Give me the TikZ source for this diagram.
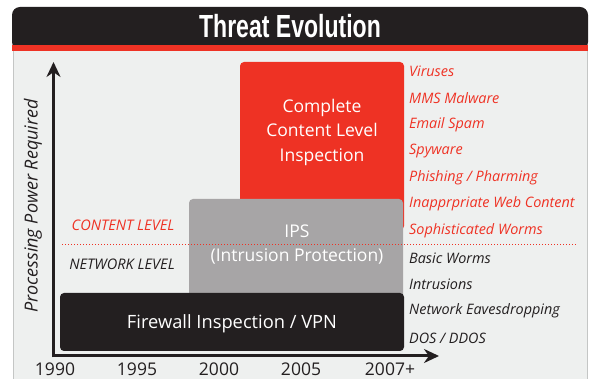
\documentclass[tikz,border=0pt]{standalone}
\usepackage{fontspec}
\setmainfont{Open Sans}
\newfontfamily\titlefont{Liberation Sans}
\usetikzlibrary{arrows.meta}
\definecolor{myred}{HTML}{EE3224}
\definecolor{mydark}{HTML}{231F20}
\definecolor{mygray}{HTML}{A7A5A6}
\definecolor{panelbg}{HTML}{EEF0EF}
\definecolor{panelline}{HTML}{C4C6C5}
\tikzset{
  blockbox/.style={rounded corners=4pt, draw=none},
  boxtext/.style={text=white, align=center, inner sep=0pt},
  threatred/.style={anchor=west, inner sep=0pt, text=myred, font=\itshape\fontsize{14.4}{16}\selectfont},
  threatdark/.style={anchor=west, inner sep=0pt, text=mydark, font=\itshape\fontsize{14.4}{16}\selectfont},
  yearlbl/.style={anchor=base, inner sep=0pt, text=mydark, font=\fontsize{17.5}{20}\selectfont},
  axisline/.style={line width=3pt, draw=mydark, -{Stealth[length=15pt,width=14pt]}},
}
\begin{document}
\begin{tikzpicture}[x=1pt,y=-1pt]
\useasboundingbox (0,0) rectangle (592,379);
% panel
\fill[white] (0,0) rectangle (592,379);
\filldraw[fill=panelbg, draw=panelline, line width=0.8pt] (13,50) -- (13,380) -- (587,380) -- (587,50) -- cycle;
% title bar
\fill[mydark, rounded corners=8pt] (12,50) -- (12,7) -- (588,7) -- (588,50) -- cycle;
\fill[myred] (12,45) rectangle (588,51);
\node[text=white, inner sep=0pt] (title) at (290,26) {\titlefont\bfseries\fontsize{32}{34}\selectfont\scalebox{0.72}[1]{Threat Evolution}};
% blocks
\fill[myred, blockbox] (240,62) rectangle (404,230);
\node[boxtext, font=\fontsize{17.5}{24.5}\selectfont] (cli) at (322,132) {Complete\\Content Level\\Inspection};
\fill[mygray, blockbox] (189,199) rectangle (403,310);
\node[boxtext, font=\fontsize{17.5}{24}\selectfont] (ips) at (297,245) {IPS\\(Intrusion Protection)};
\fill[mydark, blockbox] (60,293) rectangle (404,351);
\node[boxtext, font=\fontsize{18.3}{20}\selectfont] (fw) at (232,324) {Firewall Inspection / VPN};
% dotted separator
\coordinate (dl) at (62,244);
\coordinate (dr) at (576,244);
\draw[myred, line width=0.8pt, dash pattern=on 0.8pt off 2.2pt] (dl) -- (dr);
% levels
\node[inner sep=0pt, text=myred, font=\itshape\fontsize{14.6}{16}\selectfont] (cl) at (123,225) {CONTENT LEVEL};
\node[inner sep=0pt, text=mydark, font=\itshape\fontsize{14.6}{16}\selectfont] (nl) at (122,264) {NETWORK LEVEL};
% threat list
\node[threatred] (t1) at (409,71) {Viruses};
\node[threatred] (t2) at (409,98) {MMS Malware};
\node[threatred] (t3) at (409,125) {Email Spam};
\node[threatred] (t4) at (409,151) {Spyware};
\node[threatred] (t5) at (409,178) {Phishing / Pharming};
\node[threatred] (t6) at (409,204) {Inapprpriate Web Content};
\node[threatred] (t7) at (409,231) {Sophisticated Worms};
\node[threatdark] (t8) at (409,258) {Basic Worms};
\node[threatdark] (t9) at (409,284) {Intrusions};
\node[threatdark] (t10) at (409,311) {Network Eavesdropping};
\node[threatdark] (t11) at (409,338) {DOS / DDOS};
% axes
\coordinate (origin) at (53.5,356);
\coordinate (ytip) at (53.5,62);
\coordinate (xtip) at (439,356);
\draw[axisline] ([yshift=-1.5pt]origin) -- (ytip);
\draw[axisline] ([xshift=-1.5pt]origin) -- (xtip);
\node[inner sep=0pt, text=mydark, rotate=90, font=\itshape\fontsize{18}{20}\selectfont] (ylab) at (33,206) {Processing Power Required};
% years
\node[yearlbl] (y1) at (55,375.5) {1990};
\node[yearlbl] (y2) at (137,375.5) {1995};
\node[yearlbl] (y3) at (219,375.5) {2000};
\node[yearlbl] (y4) at (301,375.5) {2005};
\node[yearlbl] (y5) at (390,375.5) {2007+};
\end{tikzpicture}
\end{document}
